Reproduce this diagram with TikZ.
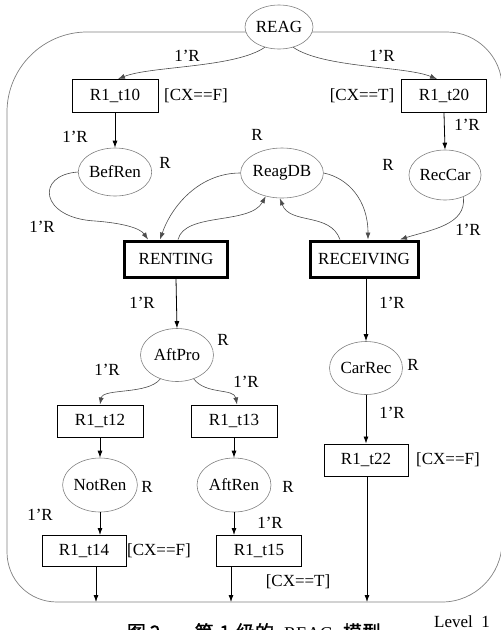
\documentclass[tikz,border=0pt]{standalone}
\usepackage{fontspec}
\setmainfont{Liberation Serif}
\newfontfamily\cjkfont{Noto Sans CJK SC}[FakeBold=1.2]
\usetikzlibrary{shapes.geometric,arrows.meta}
\newcommand\fsz{\fontsize{17}{20}\selectfont}
\begin{document}
\begin{tikzpicture}[x=1pt,y=-1pt,
  place/.style={ellipse, draw=gray, line width=0.6pt, inner sep=0pt, font=\fsz},
  trans/.style={rectangle, draw=black, line width=1pt, inner sep=0pt, font=\fsz},
  mtrans/.style={trans, line width=3pt},
  arr/.style={-{Latex[length=7pt,width=5pt]}, line width=0.8pt, draw=black},
  carr/.style={arr, draw=black!70, line width=0.6pt},
  lab/.style={font=\fsz, inner sep=0pt},
  border/.style={draw=gray, line width=0.7pt}]
\useasboundingbox (0,0) rectangle (501,630);

% outer border
\draw[border] (250,32) -- (87,32) .. controls (43,32) and (7,68) .. (7,112)
  -- (7,552) .. controls (7,580) and (29,602) .. (57,602)
  -- (442,602) .. controls (475,602) and (502,575) .. (502,542)
  -- (502,87) .. controls (502,57) and (477,32) .. (447,32) -- (310,32);

% places
\node[place, minimum width=68pt, minimum height=44pt, fill=white] (REAG) at (279,27) {REAG};
\node[place, minimum width=72pt, minimum height=48pt] (BefRen) at (115,172) {BefRen};
\node[place, minimum width=74pt, minimum height=50pt] (ReagDB) at (282,173) {ReagDB};
\node[place, minimum width=70pt, minimum height=50pt] (RecCar) at (445,175) {RecCar};
\node[place, minimum width=73pt, minimum height=53pt] (AftPro) at (177,355) {AftPro};
\node[place, minimum width=73pt, minimum height=53pt] (CarRec) at (366,368) {CarRec};
\node[place, minimum width=74pt, minimum height=54pt] (NotRen) at (100,485) {NotRen};
\node[place, minimum width=74pt, minimum height=54pt] (AftRen) at (234,485) {AftRen};

% transitions
\node[trans, minimum width=86pt, minimum height=33pt] (t10) at (115,96) {R1\_t10};
\node[trans, minimum width=85pt, minimum height=33pt] (t20) at (444,96) {R1\_t20};
\node[mtrans, minimum width=103pt, minimum height=36pt] (RENTING) at (176,259) {RENTING};
\node[mtrans, minimum width=108pt, minimum height=36pt] (RECEIVING) at (364,259) {RECEIVING};
\node[trans, minimum width=86pt, minimum height=32pt] (t12) at (100,421) {R1\_t12};
\node[trans, minimum width=86pt, minimum height=32pt] (t13) at (234,421) {R1\_t13};
\node[trans, minimum width=84pt, minimum height=32pt] (t22) at (366,460) {R1\_t22};
\node[trans, minimum width=84pt, minimum height=31pt] (t14) at (84,551) {R1\_t14};
\node[trans, minimum width=85pt, minimum height=31pt] (t15) at (259,551) {R1\_t15};

% border exit points
\coordinate (b14) at (96,602);
\coordinate (b15) at (231,602);
\coordinate (b22) at (367,602);

% connectors
\draw[carr] (REAG.235) .. controls (235,68) and (150,66) .. ([xshift=3pt]t10.north);
\draw[carr] (REAG.-55) .. controls (323,68) and (405,66) .. ([xshift=-7pt]t20.north);
\draw[arr] (t10.south) -- (BefRen.north);
\draw[arr] (t20.south) -- (RecCar.north);

\draw[carr] (BefRen.west) .. controls (35,175) and (40,218) .. (95,221)
  .. controls (122,223) and (140,228) .. ([xshift=-28pt]RENTING.north);
\draw[carr] (ReagDB.west) .. controls (200,173) and (172,205) .. ([xshift=-16pt]RENTING.north);
\draw[carr] ([xshift=2pt]RENTING.north) .. controls (185,212) and (250,225) .. (ReagDB.235);
\draw[carr] ([xshift=-24pt]RECEIVING.north) .. controls (330,212) and (290,225) .. (ReagDB.265);
\draw[carr] (ReagDB.east) .. controls (348,178) and (368,200) .. ([xshift=4pt]RECEIVING.north);
\draw[carr] (RecCar.-50) .. controls (467,225) and (430,230) .. ([xshift=36pt]RECEIVING.north);

\draw[arr] (RENTING.south) -- (AftPro.north);
\draw[arr] (RECEIVING.south -| CarRec.north) -- (CarRec.north);
\draw[carr] (AftPro.235) .. controls (148,395) and (103,388) .. (t12.north);
\draw[carr] (AftPro.-55) .. controls (206,395) and (234,388) .. ([xshift=3pt]t13.north);
\draw[arr] (CarRec.south) -- (t22.north);
\draw[arr] (t12.south) -- (NotRen.north);
\draw[arr] (t13.south -| AftRen.north) -- (AftRen.north);
\draw[arr] (NotRen.south) -- (NotRen.south |- t14.north);
\draw[arr] (AftRen.south) -- (AftRen.south |- t15.north);
\draw[arr] (t14.south -| b14) -- (b14);
\draw[arr] (t15.south -| b15) -- (b15);
\draw[arr] (t22.south -| b22) -- (b22);

% labels
\node[lab] (l1) at (187,56) {1’R};
\node[lab] (l2) at (382,56) {1’R};
\node[lab] (g1) at (196,96) {[CX==F]};
\node[lab] (g2) at (362,96) {[CX==T]};
\node[lab] (l3) at (75,137) {1’R};
\node[lab] (r1) at (257,135) {R};
\node[lab] (l4) at (467,125) {1’R};
\node[lab] (r2) at (165,163) {R};
\node[lab] (r3) at (388,165) {R};
\node[lab] (l5) at (42,227) {1’R};
\node[lab] (l6) at (468,230) {1’R};
\node[lab] (l7) at (142,303) {1’R};
\node[lab] (l8) at (392,303) {1’R};
\node[lab] (r4) at (223,340) {R};
\node[lab] (l9) at (107,370) {1’R};
\node[lab] (l10) at (246,382) {1’R};
\node[lab] (r5) at (413,365) {R};
\node[lab] (l11) at (392,413) {1’R};
\node[lab] (g3) at (448,460) {[CX==F]};
\node[lab] (r6) at (147,487) {R};
\node[lab] (r7) at (288,487) {R};
\node[lab] (l12) at (40,515) {1’R};
\node[lab] (l13) at (270,523) {1’R};
\node[lab] (g4) at (159,551) {[CX==F]};
\node[lab] (g5) at (298,582) {[CX==T]};
\node[lab] (lev) at (462,622) {Level\ \ 1};
\node[lab, font=\cjkfont\fontsize{19}{20}\selectfont] (cap) at (254,632)
  {图\hspace{4pt}2\hspace{34pt}第\hspace{6pt}1\hspace{6pt}级的\hspace{10pt}{\fontsize{18}{20}\selectfont\rmfamily REAG}\hspace{10pt}模型};
\end{tikzpicture}
\end{document}
